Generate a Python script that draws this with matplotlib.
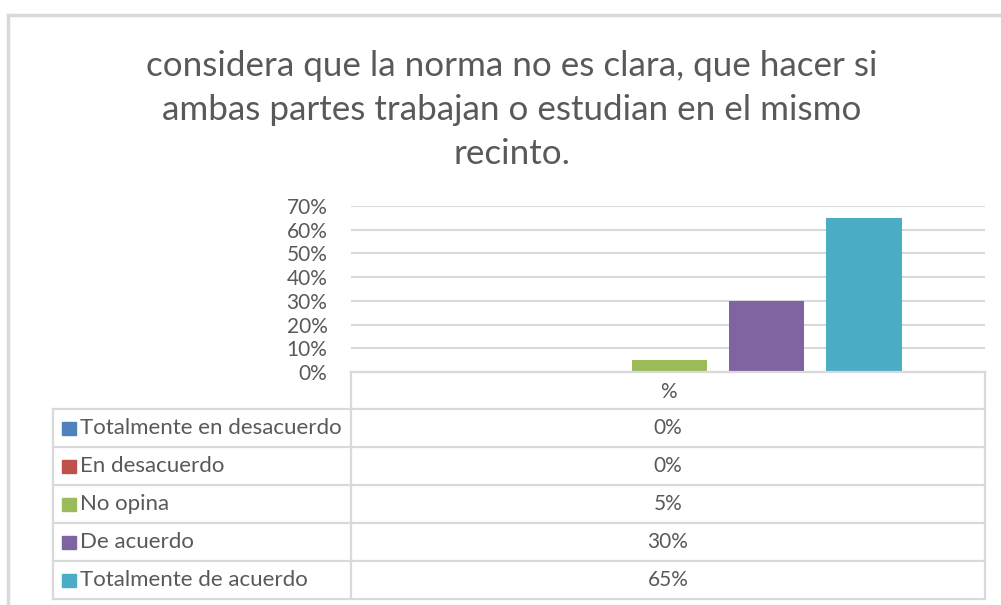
import matplotlib.pyplot as plt
from matplotlib.lines import Line2D
from matplotlib.patches import Rectangle

plt.rcParams['font.family'] = ['Lato', 'DejaVu Sans']

title_lines = ["considera que la norma no es clara, que hacer si",
               "ambas partes trabajan o estudian en el mismo",
               "recinto."]
categories = ["Totalmente en desacuerdo", "En desacuerdo", "No opina", "De acuerdo", "Totalmente de acuerdo"]
values = [0, 0, 5, 30, 65]
value_labels = ["0%", "0%", "5%", "30%", "65%"]
colors = ["#4F81BD", "#C0504D", "#9BBB59", "#8064A2", "#4BACC6"]
header = "%"
yticks = [0, 10, 20, 30, 40, 50, 60, 70]

W, H = 1001, 605
text_col = "#595959"
grid_col = "#D9D9D9"

fig = plt.figure(figsize=(W / 100, H / 100), dpi=100)

def fx(px):
    return px / W

def fy(py):
    return 1 - py / H

# outer chart border (top + left)
fig.add_artist(Line2D([fx(8), fx(1001)], [fy(15), fy(15)], color=grid_col, lw=2.5))
fig.add_artist(Line2D([fx(8), fx(8)], [fy(15), fy(605)], color=grid_col, lw=2.5))

# title, one line at a time
for i, line in enumerate(title_lines):
    fig.text(fx(512), fy(76 + 44 * i), line, ha="center", va="baseline", fontsize=25.2,
             color=text_col)

# plot area
left, right, top, bottom = 351, 985, 206, 372
ax = fig.add_axes([fx(left), fy(bottom), fx(right - left), (bottom - top) / H])
x = [i - 2 for i in range(len(values))]
ax.bar(x, values, width=0.78, color=colors, zorder=3)
ax.set_xlim(-3.28, 3.25)
ax.set_ylim(0, 70)
ax.set_yticks(yticks)
ax.set_yticklabels([f"{t}%" for t in yticks])
ax.tick_params(axis="y", length=0, pad=17, labelsize=15, labelcolor=text_col)
ax.set_xticks([])
ax.grid(axis="y", color=grid_col, lw=1.5, zorder=0)
for s in ax.spines.values():
    s.set_visible(False)

# data table
lw = 1.6
tab_left = 53
row_h = 38
rows_top = 409
tab_bottom = rows_top + row_h * len(categories)
fig.add_artist(Line2D([fx(left), fx(right)], [fy(bottom), fy(bottom)], color=grid_col, lw=lw))
fig.add_artist(Line2D([fx(left), fx(left)], [fy(bottom), fy(tab_bottom)], color=grid_col, lw=lw))
fig.add_artist(Line2D([fx(right), fx(right)], [fy(bottom), fy(tab_bottom)], color=grid_col, lw=lw))
fig.add_artist(Line2D([fx(tab_left), fx(tab_left)], [fy(rows_top), fy(tab_bottom)], color=grid_col, lw=lw))
fig.text(fx((left + right) / 2), fy((bottom + rows_top) / 2 + 1), header, ha="center", va="center",
         fontsize=15, color=text_col)
for i, (cat, lab, c) in enumerate(zip(categories, value_labels, colors)):
    y0 = rows_top + i * row_h
    fig.add_artist(Line2D([fx(tab_left), fx(right)], [fy(y0), fy(y0)], color=grid_col, lw=lw))
    yc = y0 + row_h / 2
    fig.add_artist(Rectangle((fx(62), fy(yc + 7)), fx(14), 13 / H, color=c))
    fig.text(fx(80), fy(yc), cat, ha="left", va="center", fontsize=16, color=text_col)
    fig.text(fx((left + right) / 2), fy(yc), lab, ha="center", va="center", fontsize=15, color=text_col)
fig.add_artist(Line2D([fx(tab_left), fx(right)], [fy(tab_bottom), fy(tab_bottom)], color=grid_col, lw=lw))

fig.savefig("out.png", dpi=100)
